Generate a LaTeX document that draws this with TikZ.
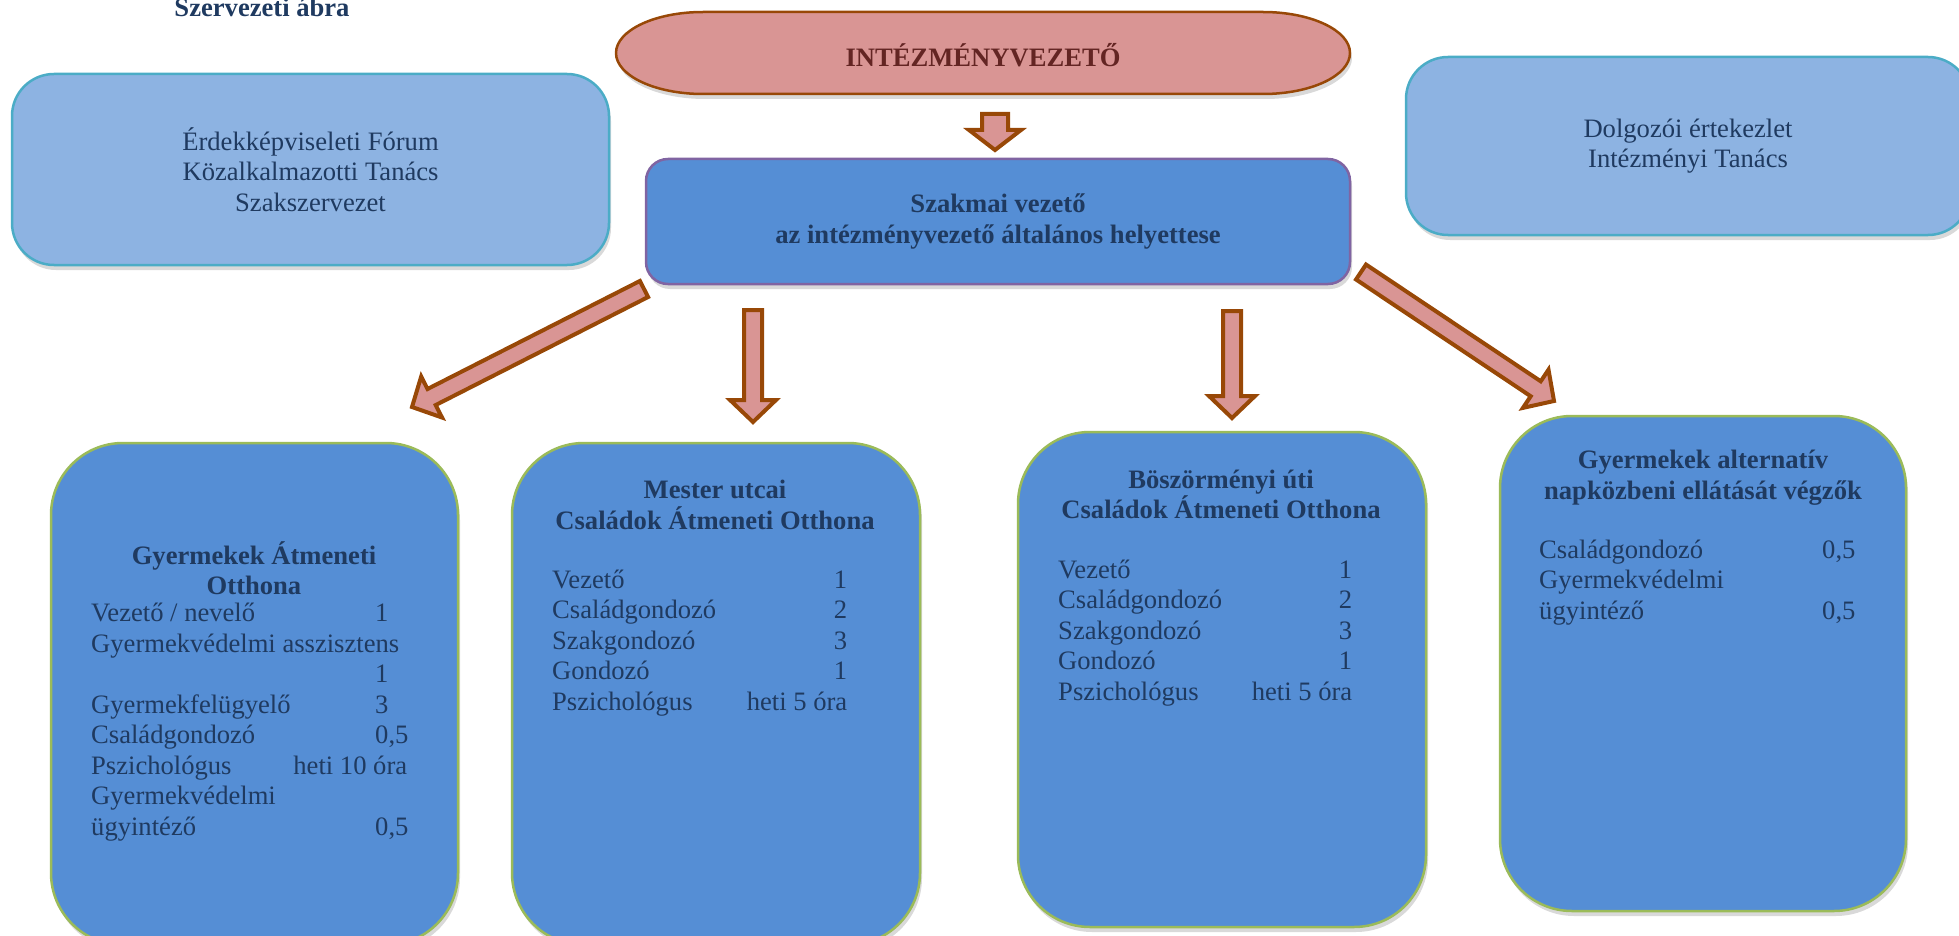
\documentclass[tikz,border=0pt]{standalone}
\usepackage{fontspec}
\setmainfont{Liberation Serif}
\usepackage{tikz}
\usetikzlibrary{calc, shadows}
\definecolor{vilagkek}{HTML}{8DB3E2}
\definecolor{turkiz}{HTML}{4BACC6}
\definecolor{kozepkek}{HTML}{558ED5}
\definecolor{lila}{HTML}{8064A2}
\definecolor{olivazold}{HTML}{9BBB59}
\definecolor{rozsaszin}{HTML}{D99594}
\definecolor{barna}{HTML}{984807}
\definecolor{sotetkek}{HTML}{1F3A60}
\definecolor{bordo}{HTML}{632523}

\newcommand{\alapbetu}{\fontsize{26.6}{30.5}\selectfont}
\newcommand{\sor}[3]{\makebox[#1][l]{#2}#3}
\newcommand{\jobbsor}[3]{\makebox[#1]{#2\hfill#3}}
% vastag nyil: szar fel, fej fel, fej hossz, honnan, hova
\newcommand{\vastagnyil}[5]{%
  \coordinate (fejto) at ($(#5)!#3!(#4)$);
  \draw[nyil] ($(#4)!#1!90:(#5)$) -- ($(fejto)!#1!90:(#5)$) -- ($(fejto)!#2!90:(#5)$) -- (#5)
    -- ($(fejto)!#2!-90:(#5)$) -- ($(fejto)!#1!-90:(#5)$) -- ($(#4)!#1!-90:(#5)$) -- cycle;}

\begin{document}
\begin{tikzpicture}[x=1pt, y=-1pt, font=\alapbetu, text=sotetkek,
  arnyek/.style={drop shadow={opacity=0.3, shadow xshift=2pt, shadow yshift=-5pt}},
  vilagdoboz/.style={fill=vilagkek, draw=turkiz, line width=2.5pt, rounded corners=42pt, align=center, arnyek},
  egysegdoboz/.style={fill=kozepkek, draw=olivazold, line width=2.5pt, rounded corners=72pt, arnyek},
  cimszoveg/.style={font=\alapbetu\bfseries, align=center, inner sep=0pt},
  listaszoveg/.style={anchor=west, align=left, inner sep=0pt},
  nyil/.style={fill=rozsaszin, draw=barna, line width=4pt, line join=miter}]
  \useasboundingbox (0,0) rectangle (1959,936);

  \node[font=\alapbetu\bfseries, anchor=base] (cim) at (262,17) {Szervezeti ábra};

  \draw[fill=rozsaszin, draw=barna, line width=2.5pt, arnyek] (703,12) -- (1263,12)
    .. controls (1311,12) and (1350,30.4) .. (1350,53)
    .. controls (1350,75.6) and (1311,94) .. (1263,94) -- (703,94)
    .. controls (655,94) and (616,75.6) .. (616,53)
    .. controls (616,30.4) and (655,12) .. (703,12) -- cycle;
  \node[font=\alapbetu\bfseries, text=bordo] (igazgato) at (983,55) {INTÉZMÉNYVEZETŐ};

  \node[vilagdoboz, minimum width=597pt, minimum height=191pt] (forum) at (310.5,169.5)
    {Érdekképviseleti Fórum\\Közalkalmazotti Tanács\\Szakszervezet};
  \node[vilagdoboz, minimum width=564pt, minimum height=178pt] (ertekezlet) at (1688,146)
    {Dolgozói értekezlet\\Intézményi Tanács};

  \node[fill=kozepkek, draw=lila, line width=2.5pt, rounded corners=22pt, arnyek,
    minimum width=704pt, minimum height=125pt, font=\alapbetu\bfseries, align=center] (szakmai) at (998,221.5)
    {Szakmai vezető\\az intézményvezető általános helyettese};

  \node[egysegdoboz, minimum width=407pt, minimum height=502pt] (gyao) at (254.5,694) {};
  \node[cimszoveg] (gyao cim) at (254,568) {Gyermekek Átmeneti\\Otthona};
  \node[listaszoveg] (gyao lista) at (91,722) {\sor{284pt}{Vezető / nevelő}{1}\\
    Gyermekvédelmi asszisztens\\ \hspace*{284pt}1\\ \sor{284pt}{Gyermekfelügyelő}{3}\\
    \sor{284pt}{Családgondozó}{0,5}\\ \jobbsor{316pt}{Pszichológus}{heti 10 óra}\\
    Gyermekvédelmi\\ \sor{284pt}{ügyintéző}{0,5}};

  \node[egysegdoboz, minimum width=408pt, minimum height=502pt] (mester) at (716,694) {};
  \node[cimszoveg] (mester cim) at (715,505) {Mester utcai\\Családok Átmeneti Otthona};
  \node[listaszoveg] (mester lista) at (552,643) {\jobbsor{295pt}{Vezető}{1}\\
    \jobbsor{295pt}{Családgondozó}{2}\\ \jobbsor{295pt}{Szakgondozó}{3}\\
    \jobbsor{295pt}{Gondozó}{1}\\ \jobbsor{295pt}{Pszichológus}{heti 5 óra}};

  \node[egysegdoboz, minimum width=408pt, minimum height=495pt] (boszi) at (1222,679.5) {};
  \node[cimszoveg] (boszi cim) at (1221,494.5) {Böszörményi úti\\Családok Átmeneti Otthona};
  \node[listaszoveg] (boszi lista) at (1058,633) {\jobbsor{294pt}{Vezető}{1}\\
    \jobbsor{294pt}{Családgondozó}{2}\\ \jobbsor{294pt}{Szakgondozó}{3}\\
    \jobbsor{294pt}{Gondozó}{1}\\ \jobbsor{294pt}{Pszichológus}{heti 5 óra}};

  \node[egysegdoboz, minimum width=406pt, minimum height=495pt] (napkozi) at (1703,663.5) {};
  \node[cimszoveg] (napkozi cim) at (1703,477.5) {Gyermekek alternatív\\napközbeni ellátását végzők};
  \node[listaszoveg] (napkozi lista) at (1539,582.5) {\sor{283pt}{Családgondozó}{0,5}\\
    Gyermekvédelmi\\ \sor{283pt}{ügyintéző}{0,5}};

  \coordinate (ny0a) at (995,114);
  \coordinate (ny0b) at (995,150);
  \coordinate (ny1a) at (644,289);
  \coordinate (ny1b) at (412,407);
  \coordinate (ny2a) at (753,310);
  \coordinate (ny2b) at (753,422);
  \coordinate (ny3a) at (1232,311);
  \coordinate (ny3b) at (1232,418);
  \coordinate (ny4a) at (1361,272);
  \coordinate (ny4b) at (1554,401);
  \vastagnyil{13pt}{26pt}{20pt}{ny0a}{ny0b}
  \vastagnyil{9pt}{23pt}{22pt}{ny1a}{ny1b}
  \vastagnyil{9pt}{23pt}{22pt}{ny2a}{ny2b}
  \vastagnyil{9pt}{23pt}{22pt}{ny3a}{ny3b}
  \vastagnyil{9pt}{23pt}{22pt}{ny4a}{ny4b}
\end{tikzpicture}
\end{document}
